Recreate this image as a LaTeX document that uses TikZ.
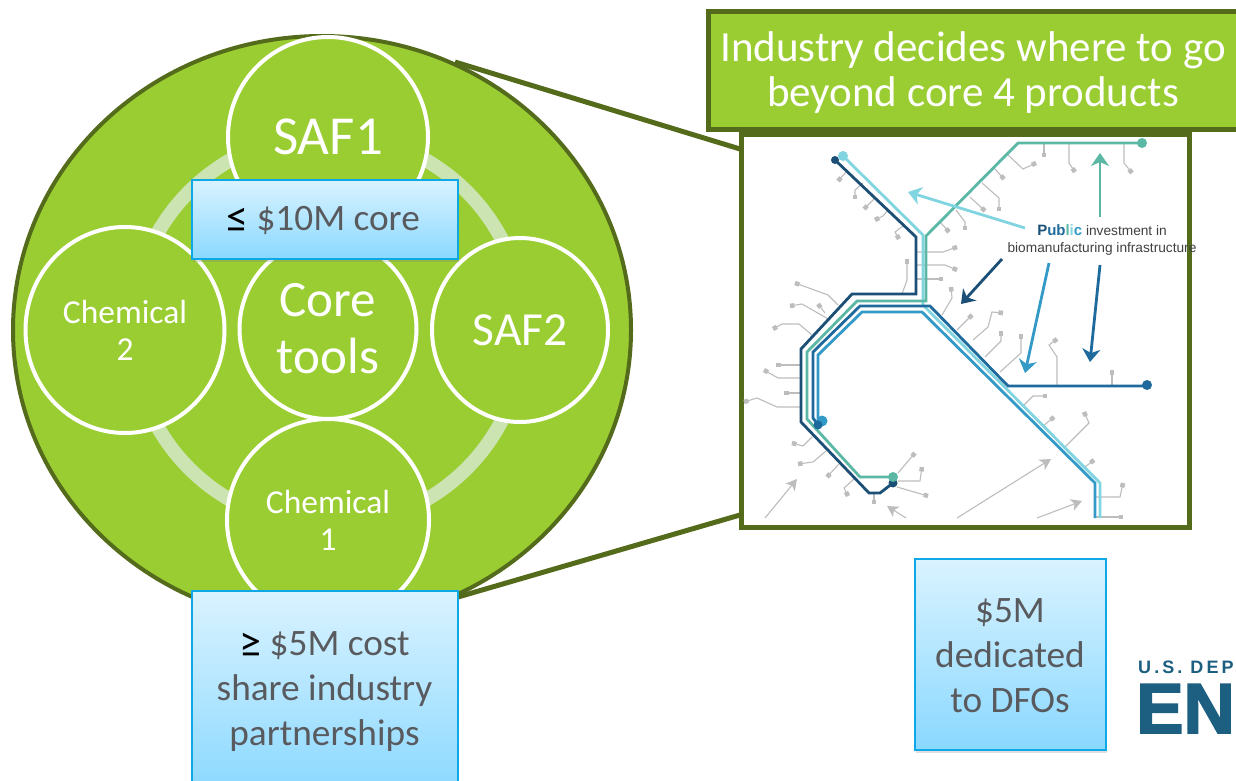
\documentclass[tikz,border=0pt]{standalone}
\usepackage{fontspec}
\setmainfont{Carlito}
\newfontfamily\mapfont{Liberation Sans}
\newfontfamily\logofont[FakeStretch=1.0,FakeBold=2.5]{Liberation Sans Bold}
\newfontfamily\logosmall[LetterSpace=17]{Liberation Sans Bold}
\newcommand{\bigsign}[1]{\raisebox{-2pt}{\textcolor{black}{\fontsize{44}{45}\selectfont #1}}}
\usetikzlibrary{arrows.meta,shapes.geometric,shadows}
\definecolor{leafgreen}{HTML}{9ACD32}
\definecolor{olivedark}{HTML}{556B1C}
\definecolor{ringgreen}{HTML}{CCE3B2}
\definecolor{boxedge}{HTML}{0FA8E6}
\definecolor{boxtop}{HTML}{DAF3FF}
\definecolor{boxbottom}{HTML}{8AD8FF}
\definecolor{boxtext}{HTML}{595A5E}
\definecolor{linenavy}{HTML}{1B4F75}
\definecolor{linedeep}{HTML}{1F6A9C}
\definecolor{lineblue}{HTML}{3399C6}
\definecolor{linecyan}{HTML}{80D5E0}
\definecolor{lineteal}{HTML}{5BB8A5}
\definecolor{twiggray}{HTML}{BDBDBD}
\definecolor{logoblue}{HTML}{1C5F80}
\tikzset{
  groupcircle/.style={ellipse,draw=white,line width=4pt,fill=leafgreen,text=white,align=center,inner sep=0pt},
  fundbox/.style={rectangle,draw=boxedge,line width=2pt,top color=boxtop,bottom color=boxbottom,inner sep=0pt,
    drop shadow={shadow xshift=1pt,shadow yshift=-3pt,opacity=0.25}},
  fundtext/.style={text=boxtext,align=center,inner sep=0pt,font=\fontsize{37.3}{45}\selectfont},
  zoomline/.style={draw=olivedark,line width=5pt},
  pipe/.style={line width=2.8pt,line join=miter},
  twig/.style={draw=twiggray,line width=1.1pt,-{Square[length=4.5pt,width=4.5pt]}},
  grayarrow/.style={draw=twiggray,line width=1.1pt,-{Stealth[inset=3pt,length=11pt,width=12pt]}},
  callout/.style={line width=2.8pt,-{Stealth[inset=4pt,length=13pt,width=18pt]}}
}
\begin{document}
\begin{tikzpicture}[x=1pt,y=-1pt]
\clip (0,0) rectangle (1236,781);
\fill [white] (0,0) rectangle (1236,781);
% zoom lines
\coordinate (zoomtopa) at (455,62);
\coordinate (zoomtopb) at (740,149);
\coordinate (zoombota) at (458,597);
\coordinate (zoombotb) at (740,515);
\draw [zoomline] (zoomtopa) -- (zoomtopb);
\draw [zoomline] (zoombota) -- (zoombotb);
% big circle
\node (bigcircle) [ellipse,draw=olivedark,line width=4pt,fill=leafgreen,minimum width=618pt,minimum height=588pt,inner sep=0pt] at (322,330) {};
\draw [ringgreen,line width=14pt] (328,330) circle (196pt);
\node (saffirst) [groupcircle,minimum width=200pt,minimum height=200pt,font=\fontsize{55}{58}\selectfont] at (328,137) {SAF1};
\node (chemsecond) [groupcircle,minimum width=199pt,minimum height=206pt,font=\fontsize{33.5}{37}\selectfont] at (125,330) {Chemical\\2};
\node (safsecond) [groupcircle,minimum width=176pt,minimum height=184pt,font=\fontsize{47.5}{52}\selectfont] at (520,330) {SAF2};
\node (chemfirst) [groupcircle,minimum width=202pt,minimum height=202pt,font=\fontsize{33.5}{37}\selectfont] at (328,520) {Chemical\\1};
\node (coretools) [groupcircle,minimum width=177pt,minimum height=180pt,font=\fontsize{51}{57}\selectfont] at (328,329) {Core\\tools};
% funding boxes
\node (corebox) [fundbox,minimum width=266pt,minimum height=79pt] at (324.5,219) {};
\node (coretext) [fundtext] at (323,220) {\bigsign{≤} \$10M core};
\node (sharebox) [fundbox,minimum width=266pt,minimum height=204pt] at (324.5,693) {};
\node (sharetext) [fundtext] at (324.5,692) {\bigsign{≥} \$5M cost\\share industry\\partnerships};
\node (dfobox) [fundbox,minimum width=191pt,minimum height=191pt] at (1010,654) {};
\node (dfotext) [fundtext] at (1010,656) {\$5M\\dedicated\\to DFOs};
% heading
\node (headbox) [rectangle,draw=olivedark,line width=5pt,fill=leafgreen,inner sep=0pt,minimum width=530pt,minimum height=118pt] at (973,71) {};
\node (headtext) [text=white,align=center,inner sep=0pt,font=\fontsize{43}{45}\selectfont] at (973,73) {Industry decides where to go\\beyond core 4 products};
% map
\node (mapbox) [rectangle,draw=olivedark,line width=5pt,fill=white,inner sep=0pt,minimum width=448pt,minimum height=393pt] at (965,331) {};
% twigs
\draw [twig] (1044,143) -- (1044,157);
\draw [twig] (1069,143) -- (1069,163) -- (1075,172);
\draw [twig] (1124,143) -- (1124,163) -- (1132,173);
\draw [twig] (1008,155) -- (1023,169) -- (1036,163);
\draw [twig] (995,169) -- (1004,179);
\draw [twig] (982,183) -- (999,198) -- (999,211);
\draw [twig] (970,197) -- (985,211);
\draw [twig] (956,210) -- (965,222) -- (965,230);
\draw [twig] (940,222) -- (949,232);
\draw [twig] (846,172) -- (838,181);
\draw [twig] (863,183) -- (855,190) -- (855,199);
\draw [twig] (875,198) -- (864,209);
\draw [twig] (888,210) -- (883,216) -- (875,220);
\draw [twig] (903,226) -- (895,232) -- (899,239);
\draw [twig] (917,252) -- (943,252) -- (957,247);
\draw [twig] (917,265) -- (945,265) -- (957,270);
\draw [twig] (917,279) -- (943,279);
\draw [twig] (902,294) -- (907,280) -- (907,259);
\draw [twig] (942,315) -- (952,298) -- (951,287);
\draw [twig] (838,305) -- (828,295) -- (795,283);
\draw [twig] (830,320) -- (802,304) -- (790,306);
\draw [twig] (825,313) -- (818,304);
\draw [twig] (812,335) -- (799,324) -- (782,324) -- (773,329);
\draw [twig] (957,330) -- (972,315);
\draw [twig] (973,340) -- (988,327) -- (992,312) -- (1003,313);
\draw [twig] (985,357) -- (1001,341) -- (1001,331);
\draw [twig] (1000,372) -- (1021,353) -- (1021,334);
\draw [twig] (1057,386) -- (1057,357) -- (1049,345) -- (1057,339);
\draw [twig] (1112,386) -- (1112,370);
\draw [twig] (1023,406) -- (1033,396) -- (1047,396);
\draw [twig] (1043,426) -- (1054,417);
\draw [twig] (1065,447) -- (1089,423) -- (1084,412);
\draw [twig] (1085,467) -- (1094,460);
\draw [twig] (1096,497) -- (1120,497) -- (1123,483);
\draw [twig] (1096,517) -- (1123,517);
\draw [twig] (800,365) -- (776,365);
\draw [twig] (800,378) -- (778,378) -- (764,370);
\draw [twig] (800,393) -- (784,393);
\draw [twig] (800,407) -- (777,407) -- (757,398) -- (744,402);
\draw [twig] (812,437) -- (803,446) -- (792,443);
\draw [twig] (826,451) -- (813,462) -- (798,464);
\draw [twig] (839,464) -- (827,477);
\draw [twig] (854,479) -- (844,488) -- (848,496);
\draw [twig] (874,493) -- (874,504);
\draw [twig] (898,473) -- (915,453);
\draw [twig] (898,481) -- (920,481) -- (922,467);
\draw [twig] (897,487) -- (928,496);
% gray arrows
\draw [grayarrow] (765,518) -- (797,479);
\draw [grayarrow] (906,518) -- (887,506);
\draw [grayarrow] (957,518) -- (1051,459);
\draw [grayarrow] (1037,518) -- (1082,501);
% pipes
\draw [pipe,linecyan] (843,156) -- (923,235) -- (923,305) -- (1100,483) -- (1100,518);
\draw [pipe,lineblue] (822,422) -- (818,422) -- (818,355) -- (862,312) -- (922,312) -- (1095,483) -- (1095,518);
\draw [pipe,linedeep] (1147,386) -- (1008,386) -- (930,306) -- (860,306) -- (813,352) -- (813,418) -- (818,425);
\draw [pipe,lineteal] (1142,143) -- (1018,143) -- (926,236) -- (926,301) -- (857,301) -- (807,352) -- (807,419) -- (860,477) -- (893,477);
\draw [pipe,linenavy] (835,160) -- (916,237) -- (916,294) -- (852,294) -- (801,349) -- (801,422) -- (869,493) -- (880,493) -- (893,483);
% end dots
\fill [linenavy] (835,160) circle (4pt);
\fill [linecyan] (843,156) circle (5pt);
\fill [lineteal] (1142,143) circle (5pt);
\fill [linedeep] (1147,385) circle (5pt);
\fill [lineblue] (822,421) circle (5.5pt);
\fill [linedeep] (818,425) circle (4.5pt);
\fill [linenavy] (893,483) circle (4.5pt);
\fill [lineteal] (893,477) circle (5pt);
% public arrows
\coordinate (cyanstart) at (1025,228);
\coordinate (cyanend) at (908,192);
\coordinate (tealstart) at (1100,217);
\coordinate (tealend) at (1100,153);
\coordinate (navystart) at (1002,259);
\coordinate (navyend) at (961,304);
\coordinate (bluestart) at (1049,263);
\coordinate (blueend) at (1025,373);
\coordinate (deepstart) at (1100,265);
\coordinate (deepend) at (1090,362);
\draw [callout,linecyan] (cyanstart) -- (cyanend);
\draw [callout,lineteal] (tealstart) -- (tealend);
\draw [callout,linenavy] (navystart) -- (navyend);
\draw [callout,lineblue] (bluestart) -- (blueend);
\draw [callout,linedeep] (deepstart) -- (deepend);
\node (publictext) [text=black!75,align=center,inner sep=0pt,font=\mapfont\fontsize{13.7}{17}\selectfont] at (1102,240) {{\fontsize{15}{17}\selectfont\bfseries\textcolor{linenavy}{P}\textcolor{linedeep}{ub}\textcolor{lineteal}{l}\textcolor{linecyan}{i}\textcolor{lineblue}{c}} investment in\\biomanufacturing infrastructure};
% logo
\node (logotop) [anchor=base west,text=logoblue,inner sep=0pt,font=\logosmall\fontsize{18}{20}\selectfont] at (1138,673) {U.S. DEP};
\node (logoname) [anchor=base west,text=logoblue,inner sep=0pt,font=\logofont\fontsize{71}{75}\selectfont] at (1136,733) {EN};
\end{tikzpicture}
\end{document}
